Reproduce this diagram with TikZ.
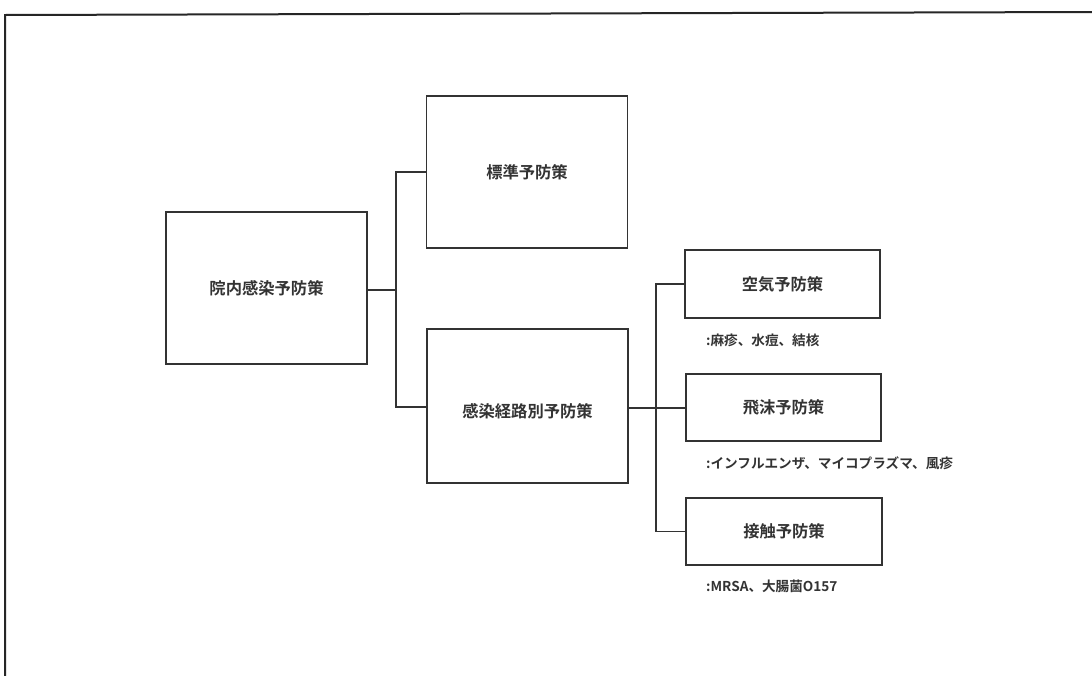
\documentclass[tikz,border=0pt]{standalone}
\usepackage{fontspec}
\newfontfamily\jp{Noto Sans CJK JP}[BoldFont={Noto Sans CJK JP Bold}]
\begin{document}
\begin{tikzpicture}[x=1pt,y=-1pt,
  boxst/.style={draw=black!80, line width=1.3pt, fill=white, inner sep=0pt},
  boxtxt/.style={font=\jp\bfseries\fontsize{16.3}{19}\selectfont, text=black!80},
  lbl/.style={font=\jp\bfseries\fontsize{13.6}{16}\selectfont, text=black!80, anchor=west, inner sep=0pt},
  conn/.style={draw=black!80, line width=1.2pt}]
\useasboundingbox (0,0) rectangle (1092,675);
\fill[white] (0,0) rectangle (1092,675);
% outer frame
\coordinate (ftl) at (5,15);
\coordinate (ftr) at (1095,12);
\coordinate (fbl) at (5,680);
\draw[black!85, line width=2pt] (ftr) -- (ftl) -- (fbl);
% boxes
\node[boxst, minimum width=201pt, minimum height=152pt] (main) at (266.5,288) {};
\node[boxtxt] at (main.center) {院内感染予防策};
\node[boxst, minimum width=201pt, minimum height=152pt] (std) at (527,172) {};
\node[boxtxt] at (std.center) {標準予防策};
\node[boxst, minimum width=201pt, minimum height=154pt] (route) at (527.5,406) {};
\node[boxtxt] at (527.5,411) {感染経路別予防策};
\node[boxst, minimum width=195pt, minimum height=68pt] (air) at (782.5,284) {};
\node[boxtxt] at (air.center) {空気予防策};
\node[boxst, minimum width=195pt, minimum height=67pt] (drop) at (783.5,407.5) {};
\node[boxtxt] at (drop.center) {飛沫予防策};
\node[boxst, minimum width=196pt, minimum height=67pt] (cont) at (784,531.5) {};
\node[boxtxt] at (cont.center) {接触予防策};
% labels
\node[lbl] (la) at (706,340) {:麻疹、水痘、結核};
\node[lbl] (lb) at (706,463) {:インフルエンザ、マイコプラズマ、風疹};
\node[lbl] (lc) at (706,586) {:MRSA、大腸菌O157};
% connectors
\coordinate (j1) at (396,290);
\coordinate (j2) at (656,408);
\draw[conn] (main.east |- j1) -- (j1);
\draw[conn] (std.west) -| (j1) |- (route.west |- 0,407);
\draw[conn] (route.east |- j2) -- (j2);
\draw[conn] (air.west) -| (j2) |- (cont.west);
\draw[conn] (j2) -- (drop.west |- j2);
\end{tikzpicture}
\end{document}
